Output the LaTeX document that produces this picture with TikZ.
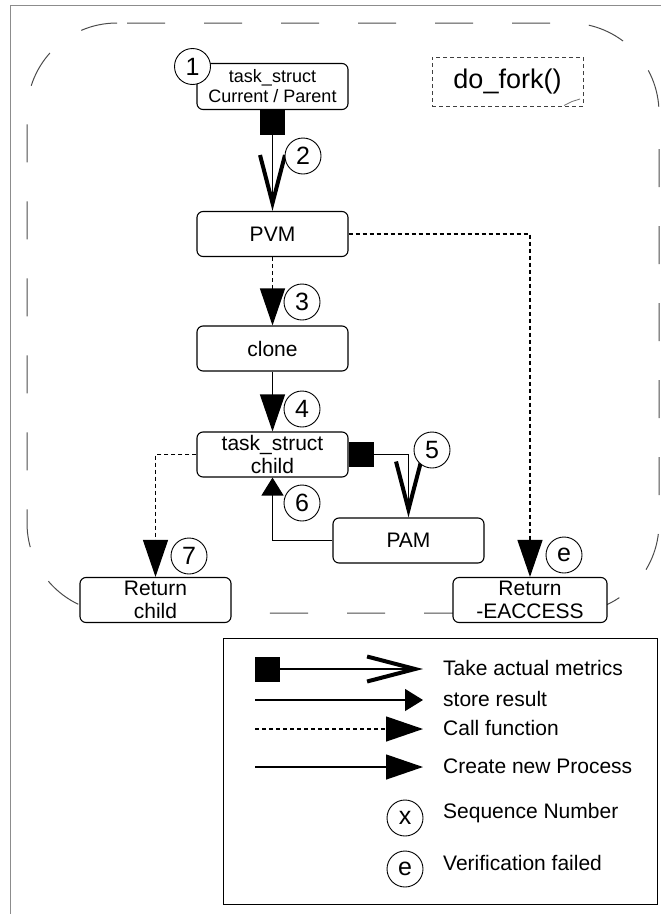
\documentclass[tikz,border=0pt]{standalone}
\usepackage{fontspec}
\setmainfont{Liberation Sans}
\usetikzlibrary{arrows.meta}

\tikzset{
  box/.style={draw, line width=1.1bp, rounded corners=6bp, fill=white,
    minimum width=151bp, minimum height=45bp, inner sep=0pt, align=center,
    font=\fontsize{21bp}{23bp}\selectfont},
  smallbox/.style={box, minimum height=46bp, font=\fontsize{18bp}{20bp}\selectfont},
  num/.style={circle, draw, line width=0.9bp, fill=white, minimum size=36bp,
    inner sep=0pt, font=\fontsize{25bp}{27bp}\selectfont},
  legtext/.style={anchor=base west, inner sep=0pt, font=\fontsize{21bp}{23bp}\selectfont},
  wire/.style={line width=1.3bp},
  calls/.style={wire, dash pattern=on 4bp off 3bp},
  bigtip/.style={-{Triangle[length=37bp,width=25bp]}},
  createarrow/.style={wire, bigtip},
  callarrow/.style={calls, bigtip},
  storearrow/.style={wire, -{Triangle[length=18bp,width=22bp]}},
  metrics/.style={wire, {Square[length=25bp,width=25bp]}-{Straight Barb[length=48bp,width=25bp,line width=4bp]}},
  frame/.style={draw=black!70, line width=1bp, rounded corners=90bp,
    dash pattern=on 38bp off 39bp},
}

\begin{document}
\begin{tikzpicture}[x=1bp, y=-1bp]
\useasboundingbox (0,0) rectangle (661,914);

% page border
\draw[black!45, line width=1.5bp] (10.5,914) -- (10.5,5.5) -- (661,5.5);

% dashed boundary of do_fork()
\draw[frame, dash phase=67bp] (117,23) -- (659,23) -- (659,113);
\draw[frame, dash phase=41bp] (659,113) -- (659,613) -- (569,613);
\draw[frame, dash phase=47bp] (569,613) -- (27,613) -- (27,23) -- (117,23);

% title note
\node[draw=black!75, line width=0.9bp, dash pattern=on 4bp off 3bp,
  minimum width=151bp, minimum height=49bp, inner sep=0pt,
  font=\fontsize{27bp}{30bp}\selectfont] (title) at (507.5,81.5) {do\_fork()};
\draw[black!55, line width=0.8bp] (564,105.5) -- (572,101.5) -- (580,99);

% process boxes
\node[smallbox] (parent) at (272.5,86.5) {task\_struct\\Current / Parent};
\node[box] (pvm) at (272.5,234) {PVM};
\node[box] (clone) at (272.5,348.5) {clone};
\node[box] (child) at (272.5,454.5) {task\_struct\\child};
\node[box] (pam) at (408.5,540.5) {PAM};
\node[box] (rchild) at (155.5,600) {Return\\child};
\node[box, minimum width=154bp] (racc) at (530,600) {Return\\-EACCESS};

% connectors
\draw[metrics] (parent.south) -- (pvm.north);
\draw[callarrow] (pvm.south) -- (clone.north);
\draw[callarrow] (pvm.east) -| (racc.north);
\draw[createarrow] (clone.south) -- (child.north);
\draw[metrics] (child.east) -| (pam.north);
\draw[storearrow] (pam.west) -| (child.south);
\draw[callarrow] (child.west) -| (rchild.north);

% sequence numbers
\node[num] (n1) at (192.5,66.5) {1};
\node[num] (n2) at (303,156) {2};
\node[num] (n3) at (302,302) {3};
\node[num] (n4) at (302,409) {4};
\node[num] (n5) at (432,450) {5};
\node[num] (n6) at (302,503) {6};
\node[num] (n7) at (189,556) {7};
\node[num] (ne) at (564,555) {e};

% legend
\node[draw, line width=1bp, minimum width=434bp, minimum height=266bp,
  inner sep=0pt] (legend) at (440,771) {};
\coordinate (m0) at (255,669);  \coordinate (m1) at (423,669);
\coordinate (s0) at (255,700);  \coordinate (s1) at (423,700);
\coordinate (c0) at (255,729);  \coordinate (c1) at (423,729);
\coordinate (p0) at (255,767);  \coordinate (p1) at (423,767);
\draw[metrics] (m0) -- (m1);
\draw[storearrow] (s0) -- (s1);
\draw[callarrow] (c0) -- (c1);
\draw[createarrow] (p0) -- (p1);
\node[legtext] (tm) at (443,675) {Take actual metrics};
\node[legtext] (ts) at (443,706) {store result};
\node[legtext] (tc) at (443,735) {Call function};
\node[legtext] (tp) at (443,773) {Create new Process};
\node[num] (lx) at (405,818) {x};
\node[num] (le) at (405,869) {e};
\node[legtext] (tx) at (443,818) {Sequence Number};
\node[legtext] (tv) at (443,870) {Verification failed};
\end{tikzpicture}
\end{document}
